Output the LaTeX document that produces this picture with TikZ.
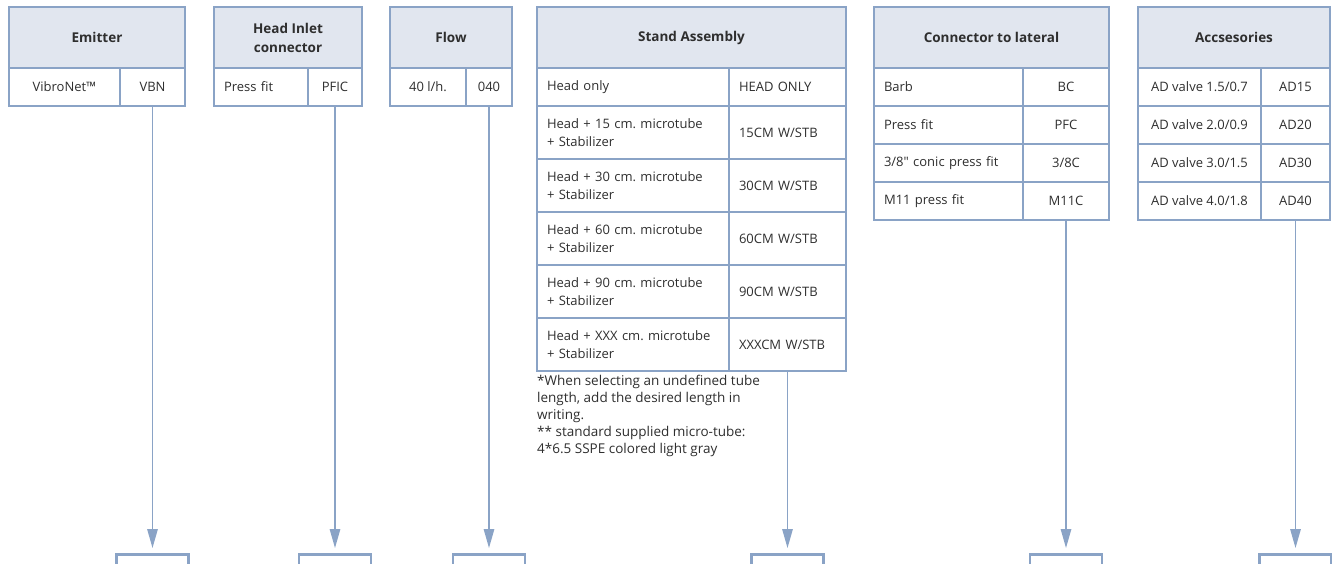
\documentclass[tikz,border=0pt]{standalone}
\usepackage{fontspec}
\setmainfont{Open Sans}
\newfontfamily\plainq{Open Sans}
\usetikzlibrary{arrows.meta}
\definecolor{frame}{HTML}{8AA3C6}
\definecolor{headfill}{HTML}{E1E6EF}
\definecolor{ink}{HTML}{2E2E2E}

\tikzset{
  cell/.style={draw=frame, line width=1.4pt, inner sep=0pt, outer sep=0pt, anchor=north west,
    minimum height=38pt, text=ink, align=center, font=\fontsize{13}{18.5}\selectfont},
  lcol/.style={align=left, inner xsep=10pt},
  head/.style={cell, fill=headfill, minimum height=61pt, font=\fontsize{13.5}{19}\selectfont\bfseries},
  slot/.style={draw=frame, line width=2.6pt, anchor=north, minimum width=72pt, minimum height=40pt},
  feed/.style={draw=frame, line width=1.4pt, -{Triangle[length=19pt,width=10.5pt]}, shorten >=5pt},
  note/.style={anchor=north west, inner sep=0pt, align=left, text=ink, font=\fontsize{13.5}{17}\selectfont}
}

\begin{document}
\frenchspacing
\begin{tikzpicture}[x=1pt,y=1pt]
  \useasboundingbox (0,0) rectangle (1332,-563);
  \clip (0,0) rectangle (1332,-563);
  \coordinate (base) at (0,-553);

  % Emitter
  \node[head, minimum width=176pt] (emH) at (9,-7) {Emitter};
  \node[cell, minimum width=111pt] (emA) at (emH.south west) {VibroNet™};
  \node[cell, minimum width=65pt] (emB) at (emA.north east) {VBN};

  % Head inlet connector
  \node[head, minimum width=148pt] (hiH) at (214,-7) {Head Inlet\\connector};
  \node[cell, lcol, text width=74pt] (hiA) at (hiH.south west) {Press fit};
  \node[cell, minimum width=54pt] (hiB) at (hiA.north east) {PFIC};

  % Flow
  \node[head, minimum width=122pt] (flH) at (390,-7) {Flow};
  \node[cell, minimum width=76pt] (flA) at (flH.south west) {40 l/h.};
  \node[cell, minimum width=46pt] (flB) at (flA.north east) {040};

  % Stand assembly
  \node[head, minimum width=309pt] (saH) at (537,-7) {Stand Assembly};
  \node[cell, lcol, text width=172pt] (saA1) at (saH.south west) {Head only};
  \node[cell, lcol, text width=97pt] (saB1) at (saA1.north east) {HEAD ONLY};
  \node[cell, lcol, text width=172pt, minimum height=53pt] (saA2) at (saA1.south west) {Head + 15 cm. microtube\\+ Stabilizer};
  \node[cell, lcol, text width=97pt, minimum height=53pt] (saB2) at (saA2.north east) {15CM W/STB};
  \node[cell, lcol, text width=172pt, minimum height=53pt] (saA3) at (saA2.south west) {Head + 30 cm. microtube\\+ Stabilizer};
  \node[cell, lcol, text width=97pt, minimum height=53pt] (saB3) at (saA3.north east) {30CM W/STB};
  \node[cell, lcol, text width=172pt, minimum height=53pt] (saA4) at (saA3.south west) {Head + 60 cm. microtube\\+ Stabilizer};
  \node[cell, lcol, text width=97pt, minimum height=53pt] (saB4) at (saA4.north east) {60CM W/STB};
  \node[cell, lcol, text width=172pt, minimum height=53pt] (saA5) at (saA4.south west) {Head + 90 cm. microtube\\+ Stabilizer};
  \node[cell, lcol, text width=97pt, minimum height=53pt] (saB5) at (saA5.north east) {90CM W/STB};
  \node[cell, lcol, text width=172pt, minimum height=53pt] (saA6) at (saA5.south west) {Head + XXX cm. microtube\\+ Stabilizer};
  \node[cell, lcol, text width=97pt, minimum height=53pt] (saB6) at (saA6.north east) {XXXCM W/STB};
  \node[note] (saN) at ([yshift=-4pt]saA6.south west) {*When selecting an undefined tube\\length, add the desired length in\\writing.\\** standard supplied micro-tube:\\4*6.5 SSPE colored light gray};

  % Connector to lateral
  \node[head, minimum width=235pt] (coH) at (874,-7) {Connector to lateral};
  \node[cell, lcol, text width=129pt] (coA1) at (coH.south west) {Barb};
  \node[cell, minimum width=86pt] (coB1) at (coA1.north east) {BC};
  \node[cell, lcol, text width=129pt] (coA2) at (coA1.south west) {Press fit};
  \node[cell, minimum width=86pt] (coB2) at (coA2.north east) {PFC};
  \node[cell, lcol, text width=129pt] (coA3) at (coA2.south west) {3/8{\plainq"} conic press fit};
  \node[cell, minimum width=86pt] (coB3) at (coA3.north east) {3/8C};
  \node[cell, lcol, text width=129pt] (coA4) at (coA3.south west) {M11 press fit};
  \node[cell, minimum width=86pt] (coB4) at (coA4.north east) {M11C};

  % Accessories
  \node[head, minimum width=192pt] (acH) at (1138,-7) {Accsesories};
  \node[cell, minimum width=123pt] (acA1) at (acH.south west) {AD valve 1.5/0.7};
  \node[cell, minimum width=69pt] (acB1) at (acA1.north east) {AD15};
  \node[cell, minimum width=123pt] (acA2) at (acA1.south west) {AD valve 2.0/0.9};
  \node[cell, minimum width=69pt] (acB2) at (acA2.north east) {AD20};
  \node[cell, minimum width=123pt] (acA3) at (acA2.south west) {AD valve 3.0/1.5};
  \node[cell, minimum width=69pt] (acB3) at (acA3.north east) {AD30};
  \node[cell, minimum width=123pt] (acA4) at (acA3.south west) {AD valve 4.0/1.8};
  \node[cell, minimum width=69pt] (acB4) at (acA4.north east) {AD40};

  % code slots
  \node[slot] (emS) at (emB.south |- base) {};
  \node[slot] (hiS) at (hiB.south |- base) {};
  \node[slot] (flS) at (flB.south |- base) {};
  \node[slot] (saS) at (saB6.south |- base) {};
  \node[slot] (coS) at (coB4.south |- base) {};
  \node[slot] (acS) at (acB4.south |- base) {};

  \draw[feed] (emB.south) -- (emS.north);
  \draw[feed] (hiB.south) -- (hiS.north);
  \draw[feed] (flB.south) -- (flS.north);
  \draw[feed] (saB6.south) -- (saS.north);
  \draw[feed] (coB4.south) -- (coS.north);
  \draw[feed] (acB4.south) -- (acS.north);
\end{tikzpicture}
\end{document}
